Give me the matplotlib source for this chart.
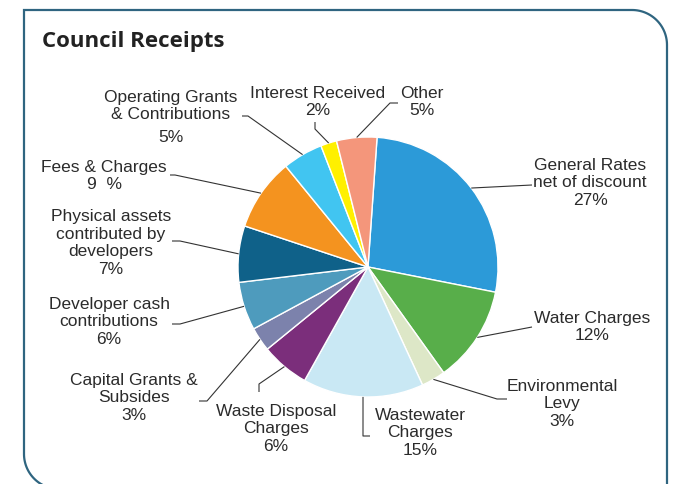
import numpy as np
import matplotlib
matplotlib.use('Agg')
import matplotlib.pyplot as plt
from matplotlib.path import Path
from matplotlib.patches import PathPatch

W, H = 674, 485

categories = ['General Rates\nnet of discount', 'Water Charges', 'Environmental\nLevy',
              'Wastewater\nCharges', 'Waste Disposal\nCharges', 'Capital Grants &\nSubsides',
              'Developer cash\ncontributions', 'Physical assets\ncontributed by\ndevelopers',
              'Fees & Charges', 'Operating Grants\n& Contributions', 'Interest Received', 'Other']
values = [27, 12, 3, 15, 6, 3, 6, 7, 9, 5, 2, 5]
pct_labels = ['27%', '12%', '3%', '15%', '6%', '3%', '6%', '7%', '9  %', '5%', '2%', '5%']
colors = ['#2c9ad8', '#58ae4a', '#dde7c7', '#c9e8f4', '#7b2e7b', '#7c82ac',
          '#4e9bbd', '#0f6189', '#f4931f', '#41c5f1', '#fff000', '#f4967b']

# label block centre + elbow points of each leader line (pixel coords, y down)
label_pos = [(590, 183), (592, 327), (562, 404), (420, 433), (276, 429), (134, 398),
             (109, 322), (111, 243), (104, 176), (171, 106), (318, 102), (422, 102)]
elbows = [[(532, 186)], [(532, 328)], [(507, 400), (497, 400)], [(370, 437), (363, 437)],
          [(259, 393), (259, 385)], [(199, 402), (207, 402)], [(172, 325), (180, 325)],
          [(172, 242), (180, 242)], [(170, 176), (175, 176)], [(242, 117), (248, 117)],
          [(315, 123), (315, 130)], [(398, 104), (390, 104)]]

cx, cy, r = 368, 268, 130
text_color = '#2b2b2b'
lbl = dict(ha='center', va='center', fontsize=12.5, family='Liberation Sans',
           color=text_color, linespacing=1.2)

fig = plt.figure(figsize=(W / 100, H / 100), dpi=100)
ax = fig.add_axes([0, 0, 1, 1])

wedges, _ = ax.pie(values, colors=colors, center=(cx, cy), radius=r,
                   startangle=-86, counterclock=True,
                   wedgeprops=dict(edgecolor='white', linewidth=1.0))
ax.set_xlim(0, W)
ax.set_ylim(H, 0)
ax.set_aspect('equal')
ax.axis('off')

for i, w in enumerate(wedges):
    mid = np.deg2rad((w.theta1 + w.theta2) / 2)
    edge_pt = (cx + r * np.cos(mid), cy + r * np.sin(mid))
    xs, ys = zip(*(elbows[i] + [edge_pt]))
    ax.plot(xs, ys, color='#333333', lw=0.8, solid_capstyle='butt')

    x, y = label_pos[i]
    if categories[i].startswith('Operating'):
        ax.text(x, y, categories[i], **lbl)
        ax.text(x, y + 32, pct_labels[i], **lbl)
    else:
        ax.text(x, y, categories[i] + '\n' + pct_labels[i], **lbl)

ax.text(42, 41, 'Council Receipts', ha='left', va='center', fontsize=16,
        fontweight='bold', family='Open Sans', color='#222222')

# frame: square top-left, rounded top-right and bottom-left
rad = 35
t = np.linspace(0, np.pi / 2, 30)
top_right = [(667 - rad + rad * np.sin(a), 11 + rad - rad * np.cos(a)) for a in t]
bottom_left = [(24 + rad - rad * np.cos(a), 455 + rad * np.sin(a)) for a in t]
pts = [(667, 520), (667, 11 + rad)] + top_right[::-1] + [(24, 11), (24, 455)] + bottom_left + [(120, 490)]
ax.add_patch(PathPatch(Path(pts), fill=False, edgecolor='#2f6580', lw=1.6, clip_on=False))

fig.savefig('out.png', dpi=100)
